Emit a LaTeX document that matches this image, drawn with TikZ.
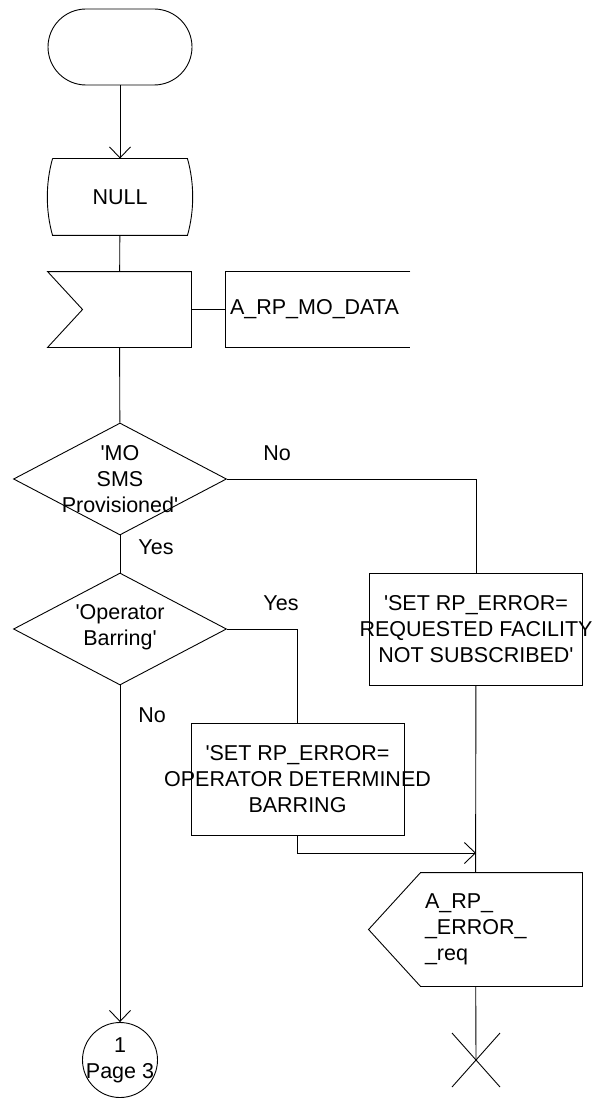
\documentclass[tikz,border=0pt]{standalone}
\usepackage{fontspec}
\setmainfont{Liberation Sans}
\usetikzlibrary{shapes.geometric, shapes.misc, arrows.meta, calc}

\newcommand{\sdltext}{\fontsize{21.5}{26}\selectfont}

\begin{document}
\begin{tikzpicture}[x=1pt, y=-1pt, line width=0.9pt,
    every node/.style={font=\sdltext, inner sep=0pt},
    sdlbox/.style={draw, rectangle, minimum width=213, minimum height=112},
    decision/.style={draw, diamond, minimum width=213, minimum height=112},
    hollow/.style={rectangle, minimum width=#1, minimum height=75},
    flow/.style={-{Straight Barb[length=11pt, width=21pt]}}]
    \useasboundingbox (0,0) rectangle (597,1099);

    % Start and state
    \node[draw, rounded rectangle, minimum width=144, minimum height=76] (start) at (120,47) {};
    \node[hollow=134, minimum height=76] (null) at (120,197) {NULL};
    \draw (null.north west) -- (null.north east) .. controls +(7,25) and +(7,-25) .. (null.south east)
          -- (null.south west) .. controls +(-7,-25) and +(-7,25) .. (null.north west);

    % Input signal with comment
    \node[hollow=143] (input) at (119.5,309.5) {};
    \draw (input.north west) -- (input.north east) -- (input.south east) -- (input.south west)
          -- ($(input.west)+(35,0)$) -- cycle;
    \node[hollow=184] (mosig) at (318,309.5) {};
    \draw (mosig.north east) -- (mosig.north west) -- (mosig.south west) -- (mosig.south east);
    \node[anchor=west] (mosigtxt) at ($(mosig.west)+(4,0)$) {A\_RP\_MO\_DATA};

    % Decisions
    \node[decision] (mosms) at (120,479) {};
    \node[align=center] (mosmstxt) at (mosms) {\textquotesingle MO\\SMS\\Provisioned\textquotesingle};
    \node[decision] (opbard) at (120,629) {};
    \node[align=center] (opbardtxt) at ($(opbard)+(0,-2)$) {\textquotesingle Operator\\Barring\textquotesingle};

    % Tasks
    \node[sdlbox] (reqfac) at (476,629) {};
    \node[align=center] (reqfactxt) at (reqfac) {\textquotesingle SET RP\_ERROR=\\REQUESTED FACILITY\\NOT SUBSCRIBED\textquotesingle};
    \node[sdlbox] (opbar) at (297.5,779) {};
    \node[align=center] (opbartxt) at (opbar) {\textquotesingle SET RP\_ERROR=\\OPERATOR DETERMINED\\BARRING};

    % Output signal
    \node[hollow=213, minimum height=113] (errreq) at (475.5,929.5) {};
    \draw (errreq.west) -- ($(errreq.north west)+(52,0)$) -- (errreq.north east) -- (errreq.south east)
          -- ($(errreq.south west)+(52,0)$) -- cycle;
    \node[anchor=west, align=left] (errreqtxt) at ($(errreq.west)+(56,0)$) {A\_RP\_\\\_ERROR\_\\\_req};

    % Connector and stop
    \node[draw, circle, minimum size=75] (page) at (120,1060) {};
    \node[align=center] (pagetxt) at (page) {1\\Page 3};
    \coordinate (stop) at (476,1060);
    \draw ($(stop)+(-24,-27)$) -- ($(stop)+(24,27)$);
    \draw ($(stop)+(24,-27)$) -- ($(stop)+(-24,27)$);
    \coordinate (merge) at (476,853);

    % Flow lines
    \draw[flow] (start) -- (null);
    \draw (null) -- (input);
    \draw (input.east) -- (mosig.west);
    \draw (input) -- (mosms);
    \draw (mosms.east) -| (reqfac.north);
    \draw (mosms) -- (opbard);
    \draw (opbard.east) -| (opbar.north);
    \draw[flow] (opbard) -- (page);
    \draw (reqfac) -- (errreq);
    \draw[flow] (opbar.south) |- (merge);
    \draw (errreq) -- (stop);

    % Branch labels
    \node[anchor=west] (nolbl) at (263,453) {No};
    \node[anchor=west] (yeslbl) at (138,547) {Yes};
    \node[anchor=west] (yesbar) at (263,603) {Yes};
    \node[anchor=west] (nobar) at (138,715) {No};
\end{tikzpicture}
\end{document}
